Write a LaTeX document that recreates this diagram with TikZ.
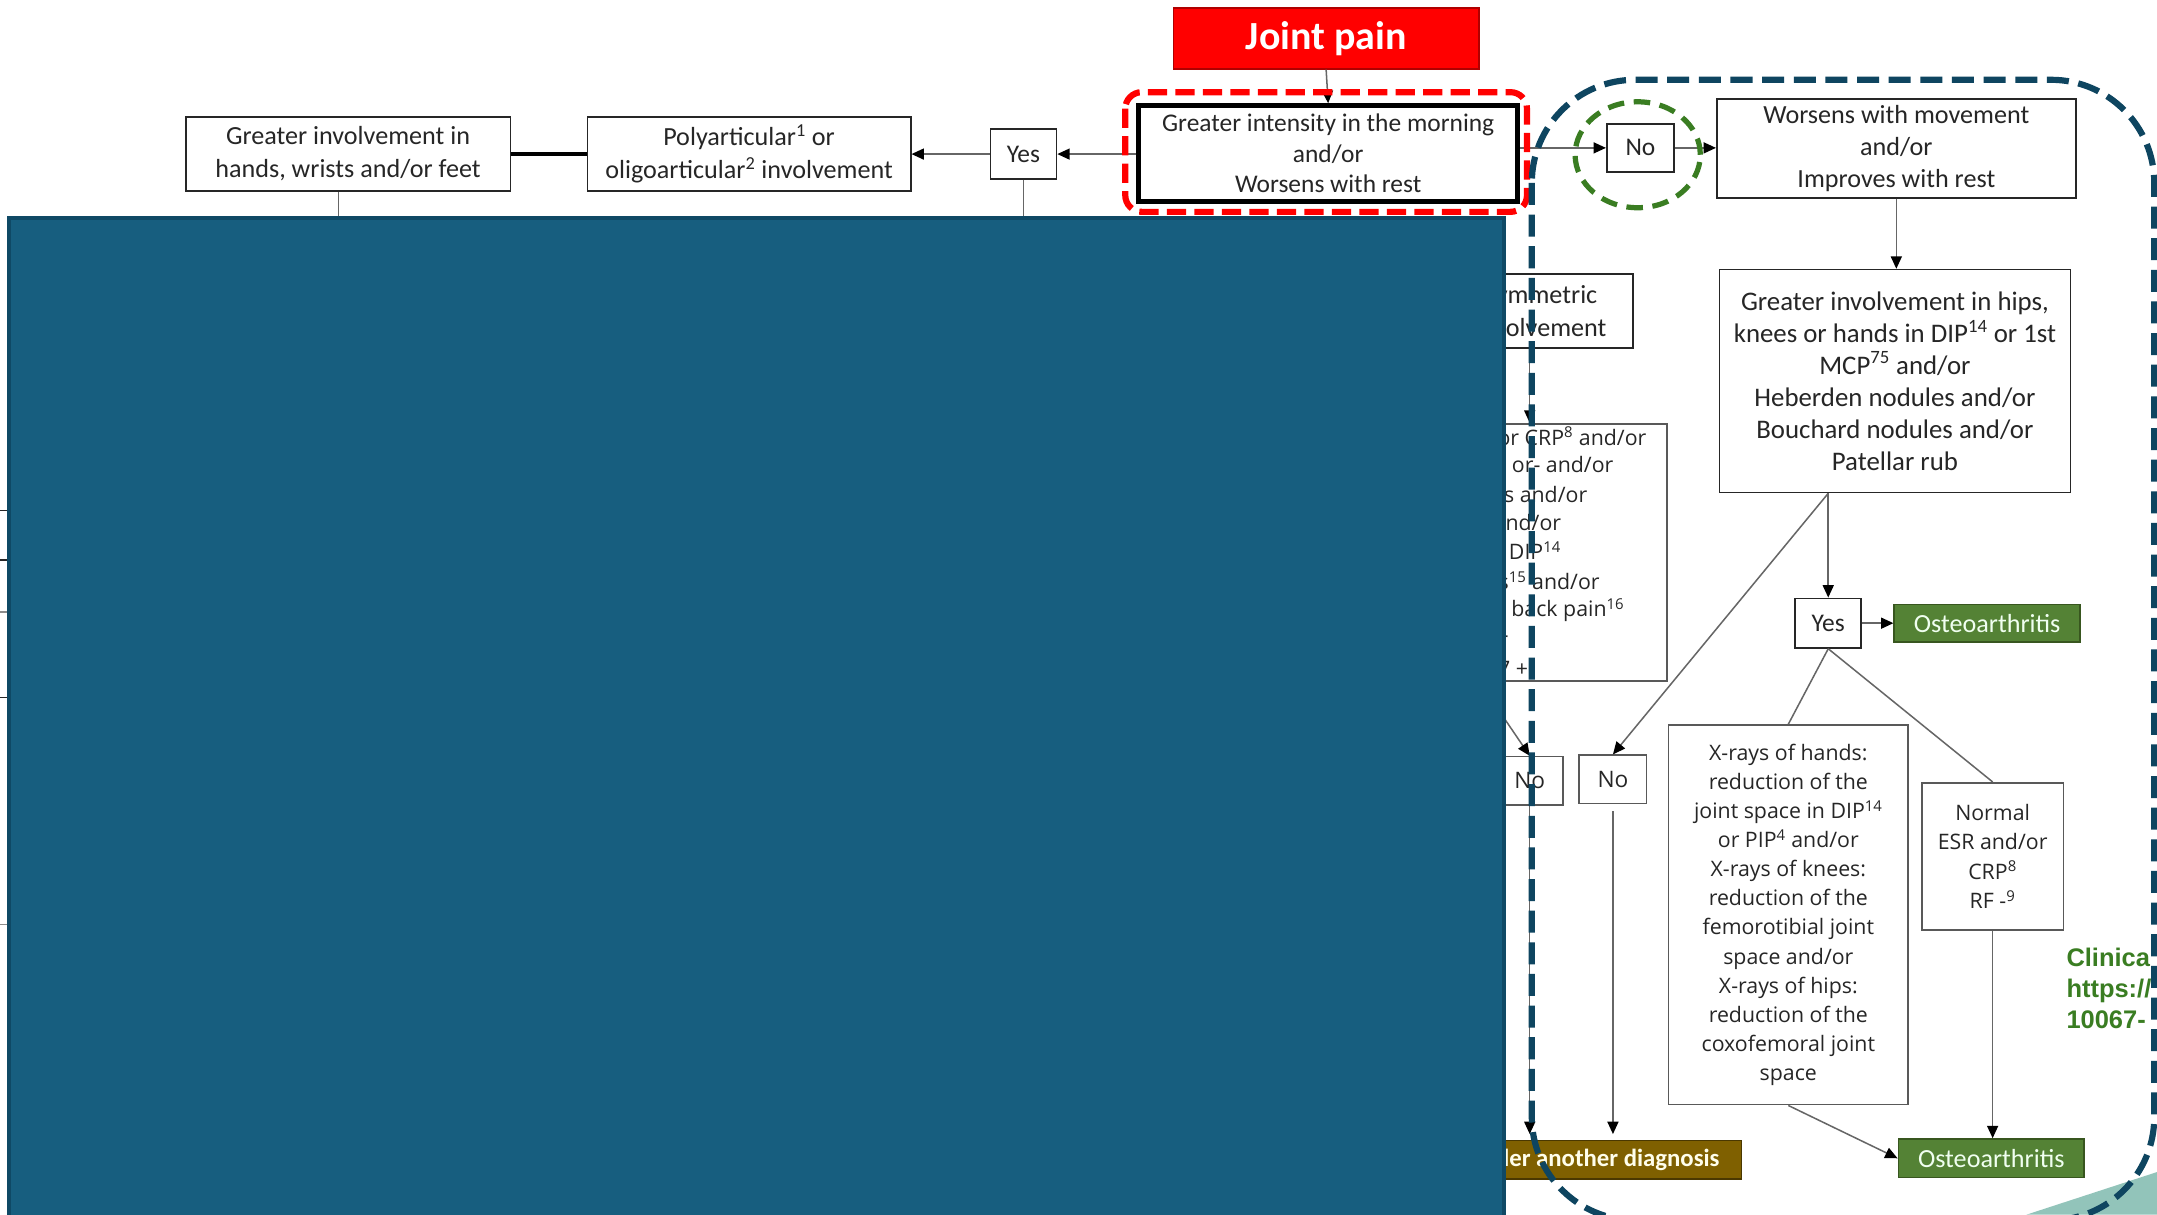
\documentclass[tikz,border=0pt]{standalone}
\usepackage{fontspec}
\setmainfont{Carlito}
\newfontfamily\osans{Open Sans}
\newfontfamily\lsans{Liberation Sans}
\usetikzlibrary{arrows.meta}
\definecolor{jpred}{HTML}{FF0000}
\definecolor{jpborder}{HTML}{B00000}
\definecolor{oagreen}{HTML}{548235}
\definecolor{oaborder}{HTML}{38561F}
\definecolor{dxbrown}{HTML}{7F6000}
\definecolor{dxborder}{HTML}{4A3800}
\definecolor{coverblue}{HTML}{175E7F}
\definecolor{coveredge}{HTML}{0F4965}
\definecolor{dashblue}{HTML}{0E4560}
\definecolor{circgreen}{HTML}{3A7D22}
\definecolor{refgreen}{HTML}{3A7D22}
\definecolor{tealwedge}{HTML}{92C4BA}
\definecolor{inktext}{HTML}{262626}
\newcommand\myfs[2]{\fontsize{#1}{#2}\selectfont}
\begin{document}
\begin{tikzpicture}[x=1pt,y=-1pt,
  box/.style={draw=black!85, line width=1.2pt, fill=white, inner sep=0pt, align=center, text=inktext, font=\myfs{19}{24}},
  obox/.style={box, draw=black!65, font=\osans\myfs{15.5}{21.2}},
  termgreen/.style={draw=oaborder, line width=1.2pt, fill=oagreen, text=white!94!green, inner sep=0pt, font=\myfs{19}{22}},
  conn/.style={draw=black!60, line width=1.1pt},
  arr/.style={conn, -{Triangle[length=9pt,width=8pt,color=black]}},
  frag/.style={anchor=base east, inner sep=0pt, text=inktext, font=\osans\myfs{15.5}{21.2}},
]
\useasboundingbox (0,0) rectangle (1568,883);
\fill[white] (0,0) rectangle (1568,883);

% remnants of a table at the far left edge
\draw[black!85, line width=1pt] (0,371) -- (7,371);
\draw[black!85, line width=1pt] (0,407) -- (7,407);
\draw[black!45, line width=1pt] (0,445) -- (7,445);
\draw[black!85, line width=1pt] (0,507) -- (7,507);
\draw[black!45, line width=1pt] (0,672) -- (7,672);

% teal wedge bottom right
\fill[tealwedge] (1473,883) -- (1568,852) -- (1568,883) -- cycle;

% ---------- nodes ----------
\node[draw=jpborder, line width=1.2pt, fill=jpred, text=white, inner sep=0pt,
      minimum width=222pt, minimum height=44pt, font=\bfseries\myfs{29}{32}] (jp) at (964,28) {Joint pain};
\node[box, draw=black, line width=3.5pt, minimum width=275.5pt, minimum height=69.5pt, font=\myfs{18.5}{22}] (main) at (965.5,111.5)
  {Greater intensity in the morning\\and/or\\Worsens with rest};
\node[box, minimum width=236pt, minimum height=54pt] (A) at (253,112) {Greater involvement in\\hands, wrists and/or feet};
\node[box, minimum width=235pt, minimum height=54pt] (B) at (544.5,112) {Polyarticular\textsuperscript{1} or\\oligoarticular\textsuperscript{2} involvement};
\node[box, minimum width=48pt, minimum height=36pt, font=\myfs{18.5}{22}] (yes1) at (744,112) {Yes};
\node[box, minimum width=49pt, minimum height=35pt, font=\myfs{18.5}{22}] (no1) at (1192.5,107.5) {No};
\node[box, minimum width=261pt, minimum height=72pt, font=\myfs{19}{23}] (W) at (1378.5,108) {Worsens with movement\\and/or\\Improves with rest};
\node[box, minimum width=255pt, minimum height=162pt, font=\myfs{19.5}{23.2}] (G) at (1377.5,277)
  {Greater involvement in hips,\\knees or hands in DIP\textsuperscript{14} or 1st\\MCP\textsuperscript{75} and/or\\Heberden nodules and/or\\Bouchard nodules and/or\\Patellar rub};
\node[box, minimum width=48pt, minimum height=36pt, font=\myfs{18.5}{22}] (yes2) at (1329,453) {Yes};
\node[termgreen, minimum width=135pt, minimum height=27pt] (oa1) at (1444.5,453) {Osteoarthritis};
\node[obox, minimum width=174pt, minimum height=276pt] (xray) at (1300,665)
  {X-rays of hands:\\reduction of the\\joint space in DIP\textsuperscript{14}\\or PIP\textsuperscript{4} and/or\\X-rays of knees:\\reduction of the\\femorotibial joint\\space and/or\\X-rays of hips:\\reduction of the\\coxofemoral joint\\space};
\node[obox, minimum width=103pt, minimum height=107pt] (normal) at (1448.5,622.5) {Normal\\ESR and/or\\CRP\textsuperscript{8}\\RF -\textsuperscript{9}};
\node[termgreen, minimum width=135pt, minimum height=28pt] (oa2) at (1447.5,842) {Osteoarthritis};
\node[obox, minimum width=49pt, minimum height=35pt, font=\osans\myfs{16.5}{20}] (no2) at (1172.5,566.5) {No};
\node[obox, minimum width=48pt, minimum height=35pt, font=\osans\myfs{16.5}{20}] (noL) at (1112,567.5) {No};
\node[draw=dxborder, fill=dxbrown, line width=1.2pt, minimum width=235pt, minimum height=28pt, inner sep=0pt,
      text=white!92!yellow, font=\bfseries\myfs{18}{20}] (dx) at (1148.5,843) {Consider another diagnosis};
\node[box, minimum width=134pt, minimum height=54pt] (sym) at (1120,226) {Symmetric\\involvement};
\node[box, draw=black!65, minimum width=282pt, minimum height=187pt] (big) at (1071,401.5) {};
\node[frag] (f1) at (1197,323.5) {or CRP\textsuperscript{8} and/or};
\node[frag] (f2) at (1173,343.5) {or- and/or};
\node[frag] (f3) at (1154,365.5) {s and/or};
\node[frag] (f4) at (1135,385.5) {nd/or};
\node[frag] (f5) at (1135,406.5) {f DIP\textsuperscript{14}};
\node[frag] (f6) at (1163,428.5) {s\textsuperscript{15} and/or};
\node[frag] (f7) at (1181,448.5) {y back pain\textsuperscript{16}};
\node[frag] (f8) at (1096.5,470.5) {r};
\node[frag] (f9) at (1111,491.5) {7 +};
\coordinate (bigout) at (1075,495);
\coordinate (ringc) at (1190.5,112.5);

% ---------- connectors ----------
\draw[arr] (jp.south) -- (main.north);
\draw[arr] (main.west |- yes1.east) -- (yes1.east);
\draw[arr] (yes1.west) -- (B.east);
\draw[line width=3pt, black] (B.west) -- (A.east);
\draw[conn] ([xshift=-7pt]A.south) -- ++(0,30);
\draw[conn] (yes1.south) -- ++(0,40);
\draw[arr] (main.east |- no1.west) -- (no1.west);
\draw[arr] (no1.east) -- (no1.east -| W.west);
\draw[arr] (W.south) -- (W.south |- G.north);
\draw[arr] (G.south -| yes2.north) -- (yes2.north);
\draw[arr] (G.south -| yes2.north) -- (no2.north);
\draw[arr] (yes2.east) -- (oa1.west);
\draw[conn] (yes2.south) -- (xray.north);
\draw[conn] (yes2.south) -- (normal.north);
\draw[arr] (xray.south) -- (oa2.west);
\draw[arr] (normal.south) -- (normal.south |- oa2.north);
\draw[arr, shorten <=5pt, shorten >=4pt] (no2.south) -- (no2.south |- dx.north);
\draw[arr, shorten >=4pt] (noL.south) -- (noL.south |- dx.north);
\draw[arr] (sym.south -| noL.center) -- (big.north -| noL.center);
\draw[arr] (bigout) -- (noL.north);

% red dashed highlight
\draw[jpred, line width=4.5pt, dash pattern=on 14pt off 6pt, rounded corners=12pt] (818,67) rectangle (1110,154);

% covering blue panel
\filldraw[fill=coverblue, draw=coveredge, line width=3pt] (6.5,158.5) rectangle (1093.5,890);

% reference text
\node[anchor=north west, inner sep=0pt, align=left, text=refgreen, font=\lsans\bfseries\myfs{18.5}{22.5}] (ref) at (1502,689) {Clinica\\https://\\10067-};

% green dashed circle round "No"
\draw[circgreen, line width=3.8pt, dash pattern=on 12pt off 7pt] (ringc) ellipse [x radius=45.5pt, y radius=38.5pt];

% blue dashed region
\draw[dashblue, line width=4.5pt, dash pattern=on 16pt off 7pt, rounded corners=75pt] (1113.5,58) rectangle (1566,887);
\end{tikzpicture}
\end{document}
